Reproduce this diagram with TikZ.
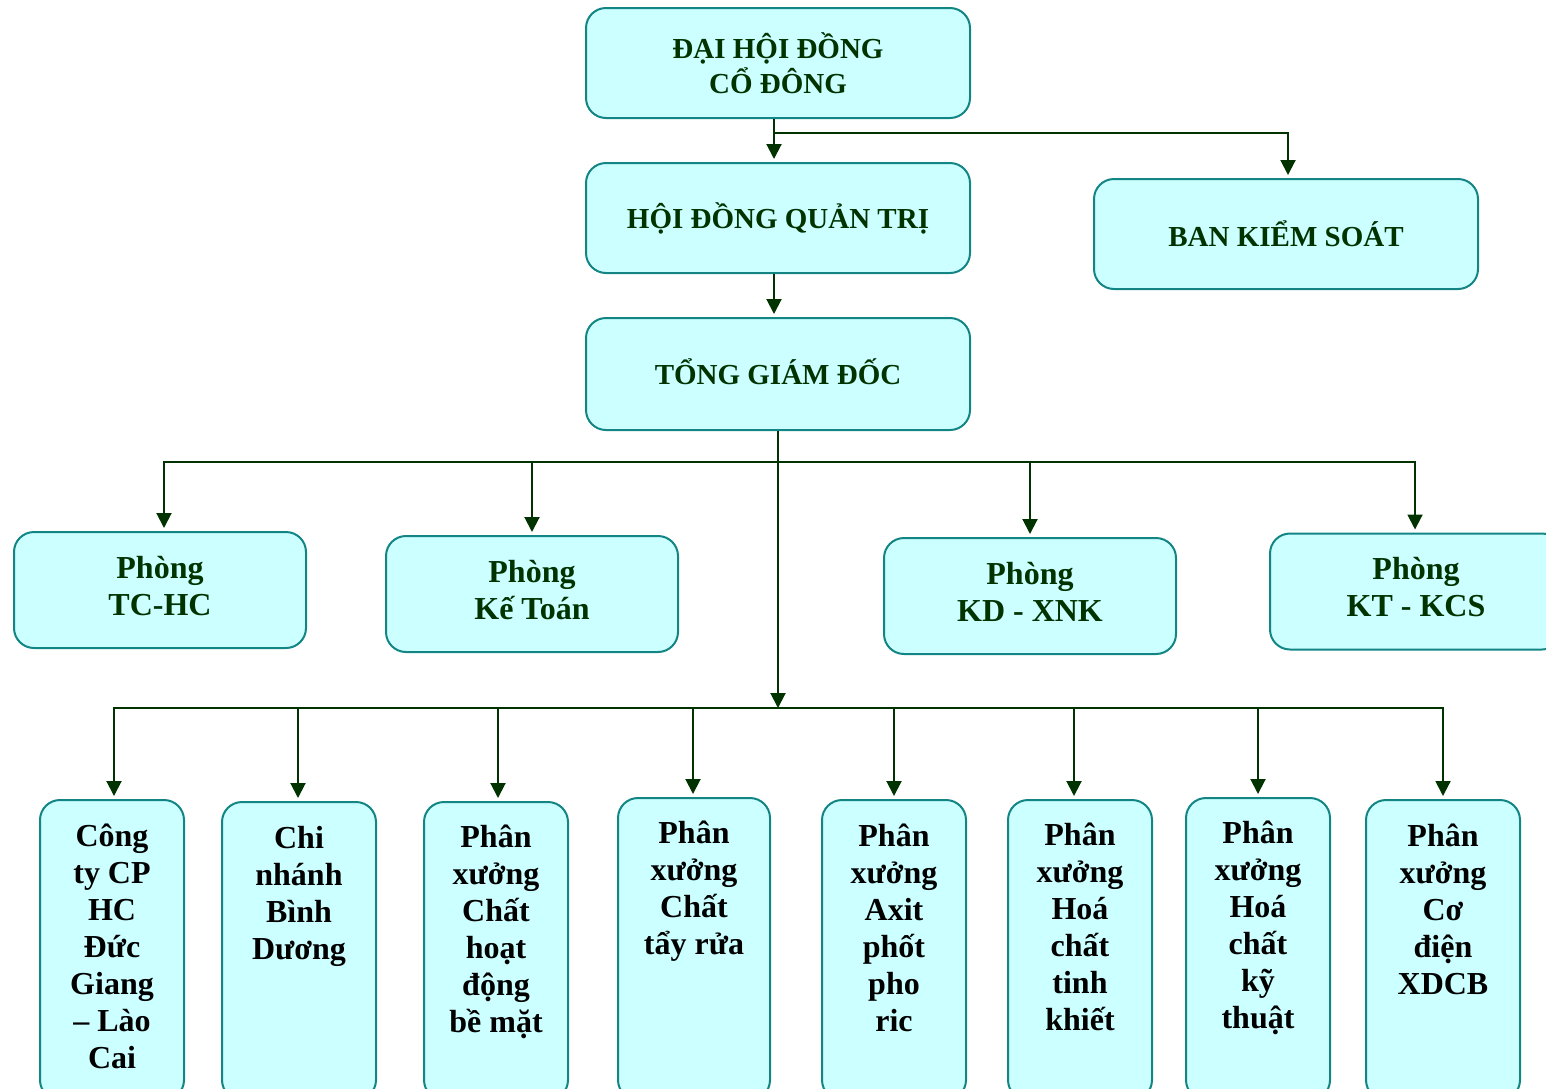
\documentclass[tikz,border=0pt]{standalone}
\usepackage{fontspec}
\setmainfont{Liberation Serif}
\usetikzlibrary{arrows.meta}
\definecolor{boxfill}{HTML}{CCFFFF}
\definecolor{boxline}{HTML}{138585}
\definecolor{linkcol}{HTML}{003300}
\definecolor{headtxt}{HTML}{003300}
\newcommand{\lowpad}[1]{\rule[-#1]{0pt}{#1}}
\tikzset{
  orgbox/.style={draw=boxline, fill=boxfill, line width=1pt, rounded corners=10pt, inner sep=0pt},
  toptext/.style={font=\fontsize{14.5}{17.5}\selectfont\bfseries, text=headtxt, align=center},
  roomtext/.style={font=\fontsize{16}{18.5}\selectfont\bfseries, text=headtxt, align=center},
  unittext/.style={font=\fontsize{16}{18.5}\selectfont\bfseries, text=black, align=center, anchor=north, inner sep=0pt},
  link/.style={draw=linkcol, line width=1pt},
  arr/.style={link, -{Triangle[width=7.5pt,length=7.5pt]}, shorten >=1.5pt},
}
\begin{document}
\begin{tikzpicture}[x=0.5pt,y=-0.5pt]
\useasboundingbox (0,0) rectangle (1546,1088);
% top boxes
\node[orgbox, toptext, minimum width=192pt, minimum height=55pt] (dh) at (778,63) {ĐẠI HỘI ĐỒNG\\CỔ ĐÔNG};
\node[orgbox, toptext, minimum width=192pt, minimum height=55pt] (hd) at (778,218) {HỘI ĐỒNG QUẢN TRỊ};
\node[orgbox, toptext, minimum width=192pt, minimum height=55pt] (bks) at (1286,234) {BAN KIỂM SOÁT};
\node[orgbox, toptext, minimum width=192pt, minimum height=56pt] (tgd) at (778,374) {TỔNG GIÁM ĐỐC\lowpad{2pt}};
% rooms
\node[orgbox, roomtext, minimum width=146pt, minimum height=58pt] (p1) at (160,590) {Phòng\\TC-HC\lowpad{4.5pt}};
\node[orgbox, roomtext, minimum width=146pt, minimum height=58pt] (p2) at (532,594) {Phòng\\Kế Toán\lowpad{4.5pt}};
\node[orgbox, roomtext, minimum width=146pt, minimum height=58pt] (p3) at (1030,596) {Phòng\\KD - XNK\lowpad{4.5pt}};
\node[orgbox, roomtext, minimum width=146pt, minimum height=58pt] (p4) at (1416,591.5) {Phòng\\KT - KCS\lowpad{4.5pt}};
% units
\node[orgbox, minimum width=72pt, minimum height=150pt] (b1) at (112,950) {};
\node[orgbox, minimum width=77pt, minimum height=149pt] (b2) at (299,951) {};
\node[orgbox, minimum width=72pt, minimum height=149pt] (b3) at (496,951) {};
\node[orgbox, minimum width=76pt, minimum height=151pt] (b4) at (694,949) {};
\node[orgbox, minimum width=72pt, minimum height=150pt] (b5) at (894,950) {};
\node[orgbox, minimum width=72pt, minimum height=150pt] (b6) at (1080,950) {};
\node[orgbox, minimum width=72pt, minimum height=151pt] (b7) at (1258,949) {};
\node[orgbox, minimum width=77pt, minimum height=150pt] (b8) at (1443,950) {};
\node[unittext] (t1) at (112,820) {\strut Công\\ty CP\\HC\\Đức\\Giang\\– Lào\\Cai};
\node[unittext] (t2) at (299,822) {\strut Chi\\nhánh\\Bình\\Dương};
\node[unittext] (t3) at (496,821) {\strut Phân\\xưởng\\Chất\\hoạt\\động\\bề mặt};
\node[unittext] (t4) at (694,817) {\strut Phân\\xưởng\\Chất\\tẩy rửa};
\node[unittext] (t5) at (894,820) {\strut Phân\\xưởng\\Axit\\phốt\\pho\\ric};
\node[unittext] (t6) at (1080,819) {\strut Phân\\xưởng\\Hoá\\chất\\tinh\\khiết};
\node[unittext] (t7) at (1258,817) {\strut Phân\\xưởng\\Hoá\\chất\\kỹ\\thuật};
\node[unittext] (t8) at (1443,820) {\strut Phân\\xưởng\\Cơ\\điện\\XDCB};
% connectors
\coordinate (j1) at (774,133);
\coordinate (j2) at (778,462);
\coordinate (j3) at (778,708);
\draw[arr] ([xshift=-2pt]dh.south) -- ([xshift=-2pt]hd.north);
\draw[arr] (j1) -| ([xshift=1pt]bks.north);
\draw[arr] ([xshift=-2pt]hd.south) -- ([xshift=-2pt]tgd.north);
\draw[arr, shorten >=0pt] (tgd.south) -- (j3);
\draw[arr] (j2) -| ([xshift=2pt]p1.north);
\draw[arr] (j2) -| (p2.north);
\draw[arr] (j2) -| (p3.north);
\draw[arr] (j2) -| ([xshift=-0.5pt]p4.north);
\draw[arr] (j3) -| ([xshift=1pt]b1.north);
\draw[arr] (j3) -| ([xshift=-0.5pt]b2.north);
\draw[arr] (j3) -| ([xshift=1pt]b3.north);
\draw[arr] (j3) -| ([xshift=-0.5pt]b4.north);
\draw[arr] (j3) -| (b5.north);
\draw[arr] (j3) -| ([xshift=-3pt]b6.north);
\draw[arr] (j3) -| (b7.north);
\draw[arr] (j3) -| (b8.north);
\end{tikzpicture}
\end{document}
